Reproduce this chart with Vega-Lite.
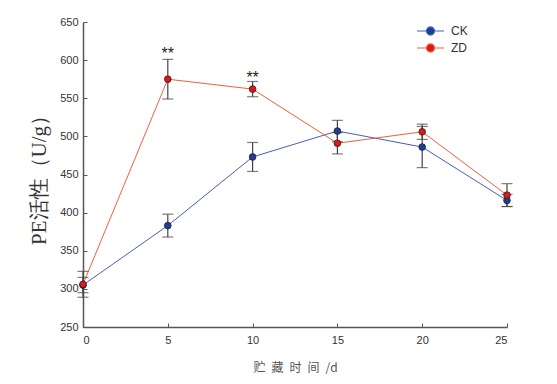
{
  "$schema": "https://vega.github.io/schema/vega-lite/v6.json",
  "width": 424,
  "height": 305,
  "autosize": {"type": "none"},
  "padding": {"left": 83, "top": 22, "right": 50, "bottom": 57},
  "background": "white",
  "config": {"view": {"stroke": null}},
  "datasets": {
    "main": [
      {"group": "CK", "day": 0, "value": 305, "err": 10},
      {"group": "CK", "day": 5, "value": 383, "err": 15},
      {"group": "CK", "day": 10, "value": 473, "err": 19},
      {"group": "CK", "day": 15, "value": 507, "err": 14},
      {"group": "CK", "day": 20, "value": 486, "err": 27},
      {"group": "CK", "day": 25, "value": 416, "err": 8},
      {"group": "ZD", "day": 0, "value": 306, "err": 17},
      {"group": "ZD", "day": 5, "value": 575, "err": 26},
      {"group": "ZD", "day": 10, "value": 562, "err": 10},
      {"group": "ZD", "day": 15, "value": 491, "err": 14},
      {"group": "ZD", "day": 20, "value": 506, "err": 10},
      {"group": "ZD", "day": 25, "value": 423, "err": 15}
    ],
    "notes": [
      {"day": 5, "value": 608, "label": "**"},
      {"day": 10, "value": 577, "label": "**"}
    ]
  },
  "data": {"name": "main"},
  "transform": [
    {"calculate": "datum.value + datum.err", "as": "hi"},
    {"calculate": "datum.value - datum.err", "as": "lo"}
  ],
  "encoding": {
    "x": {
      "field": "day", "type": "quantitative",
      "scale": {"domain": [0, 25], "nice": false},
      "axis": {
        "values": [0, 5, 10, 15, 20, 25], "grid": false,
        "title": "贮\u2002藏\u2002时\u2002间\u2002/d", "titleFont": "Noto Sans CJK SC", "titleFontSize": 12,
        "titleFontWeight": "normal", "titleColor": "#555", "titlePadding": 17,
        "labelFont": "Liberation Sans", "labelFontSize": 11, "labelColor": "#333",
        "domainColor": "#5a5550", "domainWidth": 1.5, "tickColor": "#5a5550",
        "tickSize": -4, "labelPadding": 11
      }
    },
    "y": {
      "field": "value", "type": "quantitative",
      "scale": {"domain": [250, 650], "nice": false, "zero": false},
      "axis": {
        "values": [250, 300, 350, 400, 450, 500, 550, 600, 650], "grid": false,
        "title": "PE活性（U/g）", "titleFont": "Liberation Serif", "titleFontSize": 21,
        "titleFontWeight": "normal", "titleColor": "#333", "titlePadding": 10,
        "labelFont": "Liberation Sans", "labelFontSize": 11, "labelColor": "#333",
        "domainColor": "#5a5550", "domainWidth": 1.5, "tickColor": "#5a5550",
        "tickSize": -4, "labelPadding": 9
      }
    }
  },
  "layer": [
    {
      "mark": {"type": "line", "strokeWidth": 1},
      "encoding": {
        "stroke": {
          "field": "group", "type": "nominal",
          "scale": {"domain": ["CK", "ZD"], "range": ["#4560b8", "#f0603a"]},
          "legend": {
            "title": null, "orient": "none", "legendX": 333, "legendY": 1,
            "symbolType": "M-1,0L-0.3,0M0.3,0L1,0M-0.3,0A0.3,0.3,0,1,1,0.3,0A0.3,0.3,0,1,1,-0.3,0Z",
            "symbolSize": 729, "symbolStrokeWidth": 1.2, "labelFont": "Liberation Sans",
            "labelFontSize": 12, "labelColor": "#333", "rowPadding": 1, "clipHeight": 16, "labelOffset": 6
          }
        }
      }
    },
    {
      "mark": {"type": "rule", "color": "#444", "strokeWidth": 1.2},
      "encoding": {"y": {"field": "lo", "type": "quantitative"}, "y2": {"field": "hi"}}
    },
    {
      "mark": {"type": "tick", "orient": "horizontal", "color": "#444", "size": 11, "thickness": 1.2},
      "encoding": {"y": {"field": "hi", "type": "quantitative"}}
    },
    {
      "mark": {"type": "tick", "orient": "horizontal", "color": "#444", "size": 11, "thickness": 1.2},
      "encoding": {"y": {"field": "lo", "type": "quantitative"}}
    },
    {
      "mark": {"type": "point", "filled": true, "size": 45, "stroke": "#222", "strokeWidth": 0.8, "opacity": 1},
      "encoding": {
        "fill": {
          "field": "group", "type": "nominal",
          "scale": {"domain": ["CK", "ZD"], "range": ["#1c3f94", "#e3141b"]},
          "legend": {
            "title": null, "orient": "none", "legendX": 333, "legendY": 1,
            "symbolType": "M-1,0L-0.3,0M0.3,0L1,0M-0.3,0A0.3,0.3,0,1,1,0.3,0A0.3,0.3,0,1,1,-0.3,0Z",
            "symbolSize": 729, "symbolStrokeWidth": 1.2, "labelFont": "Liberation Sans",
            "labelFontSize": 12, "labelColor": "#333", "rowPadding": 1, "clipHeight": 16, "labelOffset": 6
          }
        }
      }
    },
    {
      "data": {"name": "notes"},
      "mark": {"type": "text", "font": "Liberation Sans", "fontSize": 16, "color": "#222"},
      "encoding": {"text": {"field": "label"}}
    }
  ]
}
